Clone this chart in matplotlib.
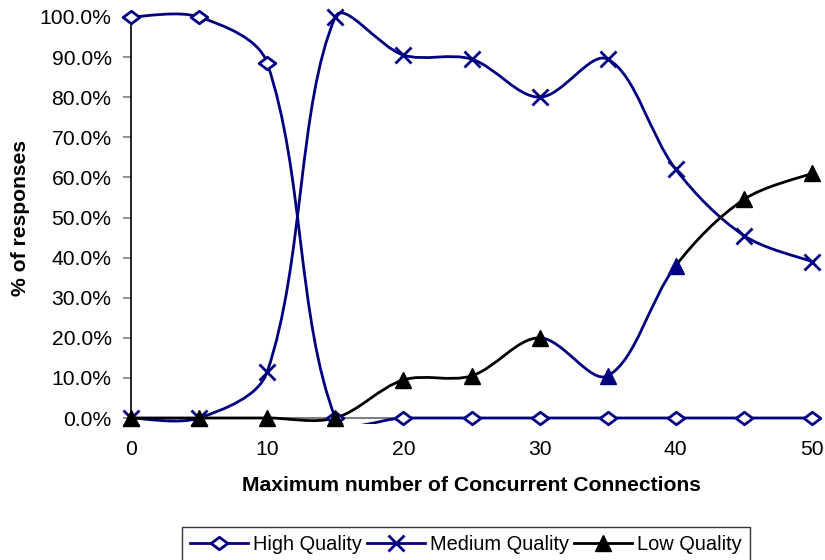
import numpy as np
import matplotlib
matplotlib.use("Agg")
import matplotlib.pyplot as plt
from matplotlib.path import Path
from matplotlib.patches import PathPatch, Rectangle
from matplotlib.lines import Line2D
from matplotlib.ticker import PercentFormatter, MultipleLocator

plt.rcParams['font.family'] = ['Liberation Sans', 'DejaVu Sans']

# Data
connections = [0, 5, 10, 15, 20, 25, 30, 35, 40, 45, 50]
high_quality = [100.0, 100.0, 88.5, 0.0, 0.0, 0.0, 0.0, 0.0, 0.0, 0.0, 0.0]
medium_quality = [0.0, 0.0, 11.5, 100.0, 90.5, 89.5, 80.0, 89.5, 62.0, 45.5, 39.0]
low_quality = [0.0, 0.0, 0.0, 0.0, 9.5, 10.5, 20.0, 10.5, 38.0, 54.5, 61.0]
series_names = ["High Quality", "Medium Quality", "Low Quality"]

NAVY = "#000080"
BLACK = "#000000"
# per-point colours of the low-quality series (point and the segment leading into it)
low_point_colors = [BLACK] * 7 + [NAVY, NAVY] + [BLACK, BLACK]

FS = 15.2

diamond = Path([(-1, 0), (0, 0.75), (1, 0), (0, -0.75), (-1, 0)],
               [Path.MOVETO, Path.LINETO, Path.LINETO, Path.LINETO, Path.CLOSEPOLY])


fig = plt.figure(figsize=(8.25, 5.6), dpi=100)
ax = fig.add_axes([131 / 825, 1 - 418 / 560, (812 - 131) / 825, (418 - 17) / 560])
ax.set_xlim(0, 50)
ax.set_ylim(0, 100)


def smooth_segments(x, y):
    """Cubic Bezier segments through the points; tangent handles are split
    in proportion to the neighbouring chord lengths on screen."""
    pts = ax.transData.transform(np.column_stack([x, y]).astype(float))
    n = len(pts)
    segs = []
    out_h = np.zeros_like(pts)
    in_h = np.zeros_like(pts)
    for i in range(n):
        prev_p = pts[max(i - 1, 0)]
        next_p = pts[min(i + 1, n - 1)]
        if i == 0 or i == n - 1:
            out_h[i] = (next_p - pts[i]) / 6.0
            in_h[i] = (pts[i] - prev_p) / 6.0
            continue
        d = next_p - prev_p
        l_in = np.hypot(*(pts[i] - prev_p))
        l_out = np.hypot(*(next_p - pts[i]))
        tot = l_in + l_out
        out_h[i] = d * (l_out / tot) / 3.0
        in_h[i] = d * (l_in / tot) / 3.0
    inv = ax.transData.inverted()
    for i in range(n - 1):
        p0, p1 = pts[i], pts[i + 1]
        c1 = p0 + out_h[i]
        c2 = p1 - in_h[i + 1]
        segs.append(inv.transform(np.array([p0, c1, c2, p1])))
    return segs


# clip region a little larger than the plotting rectangle
clip_rect = Rectangle((0, -0.015), 1, 1.033, transform=ax.transAxes,
                      facecolor='none', edgecolor='none')
ax.add_patch(clip_rect)


def draw_curve(x, y, colors):
    for k, seg in enumerate(smooth_segments(x, y)):
        path = Path(seg, [Path.MOVETO, Path.CURVE4, Path.CURVE4, Path.CURVE4])
        patch = PathPatch(path, facecolor='none', edgecolor=colors[k + 1],
                          lw=2.0, zorder=3, capstyle='round', joinstyle='round')
        ax.add_patch(patch)
        patch.set_clip_path(clip_rect)


draw_curve(connections, high_quality, [NAVY] * len(connections))
draw_curve(connections, medium_quality, [NAVY] * len(connections))
draw_curve(connections, low_quality, low_point_colors)

ax.plot(connections, high_quality, linestyle='none', marker=diamond, ms=12,
        mfc='white', mec=NAVY, mew=2.0, zorder=5, clip_on=False)
ax.plot(connections, medium_quality, linestyle='none', marker='x', ms=11,
        mec=NAVY, mew=2.0, zorder=5, clip_on=False)
for xv, yv, c in zip(connections, low_quality, low_point_colors):
    ax.plot([xv], [yv], linestyle='none', marker='^', ms=11, mfc=c, mec=c,
            zorder=6, clip_on=False)

# axes styling
for s in ['top', 'right']:
    ax.spines[s].set_visible(False)
ax.spines['left'].set_color('black')
ax.spines['left'].set_linewidth(1.2)
ax.spines['bottom'].set_color('#808080')
ax.spines['bottom'].set_linewidth(1.5)
ax.yaxis.set_major_locator(MultipleLocator(10))
ax.yaxis.set_major_formatter(PercentFormatter(100, decimals=1))
ax.xaxis.set_major_locator(MultipleLocator(10))
ax.tick_params(axis='y', direction='out', length=6, width=1.2, color='#808080',
               labelsize=FS, pad=8)
ax.tick_params(axis='x', length=0, labelsize=FS, pad=16)

ax.set_xlabel("Maximum number of Concurrent Connections", fontsize=FS,
              fontweight='bold', labelpad=12)
ax.set_ylabel("% of responses", fontsize=FS, fontweight='bold', labelpad=7)

handles = [
    Line2D([], [], color=NAVY, lw=2.0, marker=diamond, ms=12, mfc='white', mec=NAVY, mew=2.0),
    Line2D([], [], color=NAVY, lw=2.0, marker='x', ms=11, mec=NAVY, mew=2.0),
    Line2D([], [], color=BLACK, lw=2.0, marker='^', ms=11, mfc=BLACK, mec=BLACK),
]
leg = fig.legend(handles, series_names, loc='upper center', ncol=3,
                 bbox_to_anchor=(466 / 825, 1 - 527 / 560), fontsize=14.4, frameon=True,
                 fancybox=False, edgecolor='black', handlelength=2.9,
                 handletextpad=0.25, columnspacing=0.25, borderpad=0.4,
                 borderaxespad=0)
leg.get_frame().set_linewidth(1.0)

fig.savefig("out.png", dpi=100)
